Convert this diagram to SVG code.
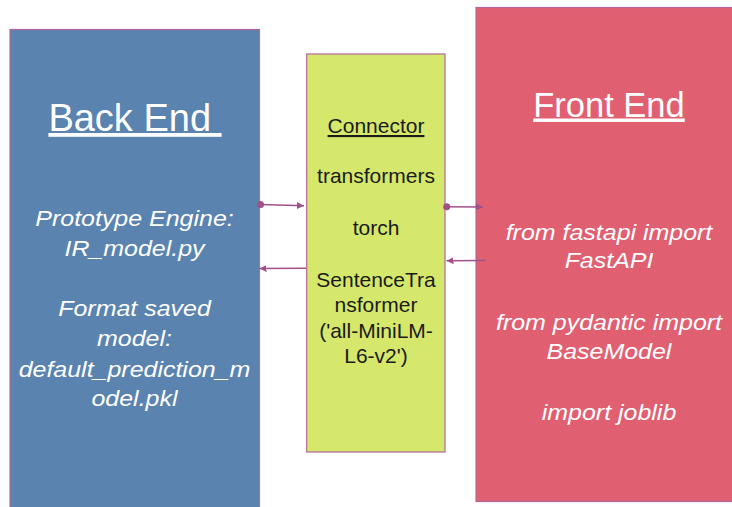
<svg xmlns="http://www.w3.org/2000/svg" width="732" height="507" viewBox="0 0 732 507">
<style>
.box{stroke:#b5679a;stroke-width:1.2}
.title{font-family:"Liberation Sans",Arial,sans-serif;fill:#ffffff;text-anchor:middle;text-decoration:underline}
.it{font-family:"Liberation Sans",Arial,sans-serif;font-style:italic;font-size:22px;fill:#ffffff;text-anchor:middle}
.ct{font-family:"Liberation Sans",Arial,sans-serif;font-size:21px;fill:#1a1a1a;text-anchor:middle}
.conn{stroke:#a2508a;stroke-width:1.5;fill:none}
</style>
<defs>
<marker id="ah" viewBox="0 0 10 10" refX="10" refY="5" markerWidth="7" markerHeight="7" markerUnits="userSpaceOnUse" orient="auto">
<path d="M0,0 L10,5 L0,10 z" fill="#a2508a"/>
</marker>
</defs>
<rect width="732" height="507" fill="#ffffff"/>
<g id="backend">
<rect class="box" x="10" y="29.5" width="249.5" height="490" fill="#5a83b0"/>
<text class="title" x="135" y="131" font-size="38" xml:space="preserve" style="white-space:pre">Back End </text>
<g transform="translate(134.5,0) scale(1.135,1)">
<text class="it" x="0" y="226.5">Prototype Engine:</text>
<text class="it" x="0" y="256.5">IR_model.py</text>
<text class="it" x="0" y="316.5">Format saved</text>
<text class="it" x="0" y="346.5">model:</text>
<text class="it" x="0" y="377">default_prediction_m</text>
<text class="it" x="0" y="406.5">odel.pkl</text>
</g>
</g>
<g id="connector">
<rect class="box" x="306.7" y="54" width="138.3" height="398" fill="#d5e86c"/>
<text class="ct" x="376" y="133" text-decoration="underline">Connector</text>
<text class="ct" x="376" y="183">transformers</text>
<text class="ct" x="376" y="235">torch</text>
<text class="ct" x="376" y="287">SentenceTra</text>
<text class="ct" x="376" y="312">nsformer</text>
<text class="ct" x="376" y="338">('all-MiniLM-</text>
<text class="ct" x="376" y="363">L6-v2')</text>
</g>
<g id="frontend">
<rect class="box" x="476" y="7.5" width="270" height="494" fill="#e06072"/>
<text class="title" x="609" y="116.5" font-size="34.5">Front End</text>
<g transform="translate(609,0) scale(1.135,1)">
<text class="it" x="0" y="240">from fastapi import</text>
<text class="it" x="0" y="268.5">FastAPI</text>
<text class="it" x="0" y="330">from pydantic import</text>
<text class="it" x="0" y="359.5">BaseModel</text>
<text class="it" x="0" y="420">import joblib</text>
</g>
</g>
<g id="connectors">
<circle cx="260.5" cy="204.5" r="3.5" fill="#a2508a"/>
<line class="conn" x1="260.5" y1="204.5" x2="304" y2="205.7" marker-end="url(#ah)"/>
<line class="conn" x1="306" y1="268.3" x2="259.5" y2="268.6" marker-end="url(#ah)"/>
<circle cx="446.7" cy="206.7" r="3.5" fill="#a2508a"/>
<line class="conn" x1="446.7" y1="206.7" x2="483" y2="206.9" marker-end="url(#ah)"/>
<line class="conn" x1="485.5" y1="260.5" x2="446.5" y2="260.7" marker-end="url(#ah)"/>
</g>
</svg>
